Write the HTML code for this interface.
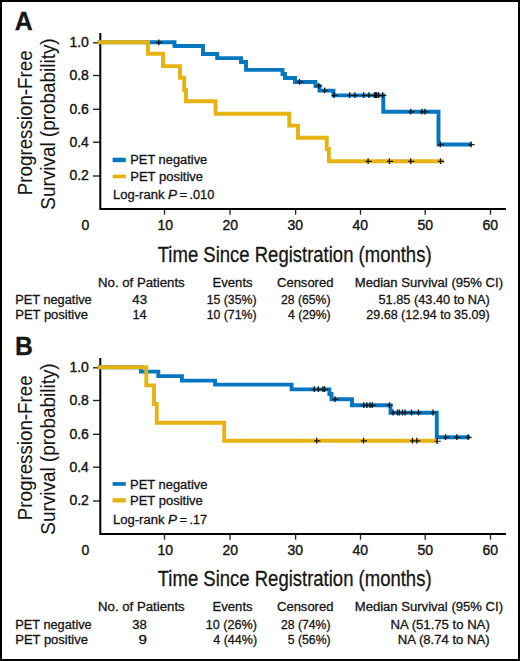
<!DOCTYPE html>
<html><head><meta charset="utf-8"><style>
html,body{margin:0;padding:0;background:#fff;}
svg{display:block;}
text{font-family:"Liberation Sans", sans-serif;fill:#161616;stroke:#161616;stroke-width:0.3px;}

</style></head><body>
<svg width="520" height="661" viewBox="0 0 520 661">
<rect x="0" y="0" width="520" height="661" fill="#fff"/>
<text x="14.75" y="29.6" font-size="25.9" font-weight="bold" textLength="17.91" lengthAdjust="spacingAndGlyphs">A</text>
<g transform="translate(32.1,122.8) rotate(-90)"><text x="0" y="0" font-size="20.8" text-anchor="middle" textLength="144.8" lengthAdjust="spacingAndGlyphs" style="stroke-width:0.1px">Progression-Free</text></g>
<g transform="translate(55.2,124) rotate(-90)"><text x="0" y="0" font-size="20.8" text-anchor="middle" textLength="171.3" lengthAdjust="spacingAndGlyphs" style="stroke-width:0.1px">Survival (probability)</text></g>
<text x="88.9" y="47.1" font-size="14" text-anchor="end" style="stroke-width:0.4px">1.0</text>
<path d="M93,42.8 H100" stroke="#222" stroke-width="1.35"/>
<text x="88.9" y="79.8" font-size="14" text-anchor="end" style="stroke-width:0.4px">0.8</text>
<path d="M93,75.5 H100" stroke="#222" stroke-width="1.35"/>
<text x="88.9" y="113.6" font-size="14" text-anchor="end" style="stroke-width:0.4px">0.6</text>
<path d="M93,109.3 H100" stroke="#222" stroke-width="1.35"/>
<text x="88.9" y="146.5" font-size="14" text-anchor="end" style="stroke-width:0.4px">0.4</text>
<path d="M93,142.2 H100" stroke="#222" stroke-width="1.35"/>
<text x="88.9" y="180.3" font-size="14" text-anchor="end" style="stroke-width:0.4px">0.2</text>
<path d="M93,176.0 H100" stroke="#222" stroke-width="1.35"/>
<text x="85.4" y="229.7" font-size="14" text-anchor="middle" style="stroke-width:0.4px">0</text>
<path d="M164.5,210 V214.7" stroke="#222" stroke-width="1.35"/>
<text x="165.2" y="229.7" font-size="14" text-anchor="middle" style="stroke-width:0.4px">10</text>
<path d="M230.0,210 V214.7" stroke="#222" stroke-width="1.35"/>
<text x="230.2" y="229.7" font-size="14" text-anchor="middle" style="stroke-width:0.4px">20</text>
<path d="M295.6,210 V214.7" stroke="#222" stroke-width="1.35"/>
<text x="295.2" y="229.7" font-size="14" text-anchor="middle" style="stroke-width:0.4px">30</text>
<path d="M360.5,210 V214.7" stroke="#222" stroke-width="1.35"/>
<text x="360.2" y="229.7" font-size="14" text-anchor="middle" style="stroke-width:0.4px">40</text>
<path d="M425.2,210 V214.7" stroke="#222" stroke-width="1.35"/>
<text x="425.2" y="229.7" font-size="14" text-anchor="middle" style="stroke-width:0.4px">50</text>
<path d="M490.5,210 V214.7" stroke="#222" stroke-width="1.35"/>
<text x="490.2" y="229.7" font-size="14" text-anchor="middle" style="stroke-width:0.4px">60</text>
<path d="M100.3,33 V209 H506" fill="none" stroke="#000" stroke-width="2"/>
<path d="M97.7,42.3 H174.5 V46.00 H203 V54.00 H217.2 V58.10 H241 V62.00 H246 V69.90 H282.5 V74.00 H285 V78.00 H295 V82.00 H315.5 V86.00 H319.5 V90.60 H333.5 V95.40 H383.3 V111.80 H438.5 V144.50 H472" fill="none" stroke="#0577C0" stroke-width="3.9"/>
<path d="M97.7,42.3 H148 V53.75 H163 V66.10 H180 V77.80 H184.25 V90.00 H186 V101.25 H215.6 V113.80 H289.25 V125.60 H298 V137.80 H326.75 V149.00 H328.9 V161.30 H443.8" fill="none" stroke="#E5B312" stroke-width="3.9"/>
<path d="M156.15,42.60 h6.2 M296.90,82.10 h6.2 M316.15,86.10 h6.2 M322.00,90.70 h6.2 M331.50,95.50 h6.2 M347.00,95.50 h6.2 M352.30,95.50 h6.2 M361.00,95.50 h6.2 M366.30,95.50 h6.2 M371.80,95.50 h6.2 M373.00,95.50 h6.2 M374.20,95.50 h6.2 M376.00,95.50 h6.2 M380.20,95.50 h6.2 M408.20,111.90 h6.2 M419.40,111.90 h6.2 M422.30,111.90 h6.2 M437.70,144.60 h6.2 M468.40,144.60 h6.2" fill="none" stroke="#1a1a1a" stroke-width="1.1"/>
<path d="M158.75,39.40 v5.8 M299.50,78.90 v5.8 M318.75,82.90 v5.8 M324.60,87.50 v5.8 M334.10,92.30 v5.8 M349.60,92.30 v5.8 M354.90,92.30 v5.8 M363.60,92.30 v5.8 M368.90,92.30 v5.8 M374.40,92.30 v5.8 M375.60,92.30 v5.8 M376.80,92.30 v5.8 M378.60,92.30 v5.8 M382.80,92.30 v5.8 M410.80,108.70 v5.8 M422.00,108.70 v5.8 M424.90,108.70 v5.8 M440.30,141.40 v5.8 M471.00,141.40 v5.8" fill="none" stroke="#111" stroke-width="1.3"/>
<path d="M365.50,161.40 h6.2 M386.80,161.40 h6.2 M408.10,161.40 h6.2 M437.90,161.40 h6.2" fill="none" stroke="#1a1a1a" stroke-width="1.1"/>
<path d="M368.10,158.20 v5.8 M389.40,158.20 v5.8 M410.70,158.20 v5.8 M440.50,158.20 v5.8" fill="none" stroke="#111" stroke-width="1.3"/>
<rect x="112.6" y="157.7" width="13.2" height="4.5" fill="#0577C0"/>
<rect x="112.6" y="174.6" width="13.2" height="3.7" fill="#E5B312"/>
<text x="130.25" y="164.05" font-size="12" textLength="76.97" lengthAdjust="spacingAndGlyphs">PET negative</text>
<text x="130.25" y="180.9" font-size="12" textLength="72.78" lengthAdjust="spacingAndGlyphs">PET positive</text>
<text x="113.0" y="199.1" font-size="12" textLength="51.4" lengthAdjust="spacingAndGlyphs">Log-rank</text>
<text x="168.0" y="199.1" font-size="12" textLength="9.0" lengthAdjust="spacingAndGlyphs"><tspan font-style="italic">P</tspan></text>
<text x="179.5" y="199.1" font-size="12" textLength="7.64" lengthAdjust="spacingAndGlyphs">=</text>
<text x="189.5" y="199.1" font-size="12" textLength="24.79" lengthAdjust="spacingAndGlyphs">.010</text>
<text x="157.75" y="261.7" font-size="22" textLength="273.83" lengthAdjust="spacingAndGlyphs">Time Since Registration (months)</text>
<text x="98.0" y="286.8" font-size="12" textLength="86.67" lengthAdjust="spacingAndGlyphs">No. of Patients</text>
<text x="212.5" y="286.8" font-size="12" textLength="40.1" lengthAdjust="spacingAndGlyphs">Events</text>
<text x="277.0" y="286.8" font-size="12" textLength="56.42" lengthAdjust="spacingAndGlyphs">Censored</text>
<text x="354.75" y="286.8" font-size="12" textLength="148.25" lengthAdjust="spacingAndGlyphs">Median Survival (95% CI)</text>
<text x="15.25" y="303.9" font-size="12" textLength="76.46" lengthAdjust="spacingAndGlyphs">PET negative</text>
<text x="132.25" y="303.9" font-size="12" textLength="14.88" lengthAdjust="spacingAndGlyphs">43</text>
<text x="206.75" y="303.9" font-size="12" textLength="49.74" lengthAdjust="spacingAndGlyphs">15 (35%)</text>
<text x="281.0" y="303.9" font-size="12" textLength="49.47" lengthAdjust="spacingAndGlyphs">28 (65%)</text>
<text x="378.5" y="303.9" font-size="12" textLength="111.35" lengthAdjust="spacingAndGlyphs">51.85 (43.40 to NA)</text>
<text x="15.25" y="318.9" font-size="12" textLength="72.72" lengthAdjust="spacingAndGlyphs">PET positive</text>
<text x="132.5" y="318.9" font-size="12" textLength="14.23" lengthAdjust="spacingAndGlyphs">14</text>
<text x="206.75" y="318.9" font-size="12" textLength="49.74" lengthAdjust="spacingAndGlyphs">10 (71%)</text>
<text x="288.0" y="318.9" font-size="12" textLength="42.59" lengthAdjust="spacingAndGlyphs">4 (29%)</text>
<text x="366.25" y="318.9" font-size="12" textLength="123.39" lengthAdjust="spacingAndGlyphs">29.68 (12.94 to 35.09)</text>
<text x="15.0" y="355.2" font-size="25.6" font-weight="bold" textLength="17.84" lengthAdjust="spacingAndGlyphs">B</text>
<g transform="translate(32.1,447.8) rotate(-90)"><text x="0" y="0" font-size="20.8" text-anchor="middle" textLength="144.8" lengthAdjust="spacingAndGlyphs" style="stroke-width:0.1px">Progression-Free</text></g>
<g transform="translate(55.2,449) rotate(-90)"><text x="0" y="0" font-size="20.8" text-anchor="middle" textLength="171.3" lengthAdjust="spacingAndGlyphs" style="stroke-width:0.1px">Survival (probability)</text></g>
<text x="88.9" y="372.1" font-size="14" text-anchor="end" style="stroke-width:0.4px">1.0</text>
<path d="M93,367.8 H100" stroke="#222" stroke-width="1.35"/>
<text x="88.9" y="404.8" font-size="14" text-anchor="end" style="stroke-width:0.4px">0.8</text>
<path d="M93,400.5 H100" stroke="#222" stroke-width="1.35"/>
<text x="88.9" y="438.6" font-size="14" text-anchor="end" style="stroke-width:0.4px">0.6</text>
<path d="M93,434.3 H100" stroke="#222" stroke-width="1.35"/>
<text x="88.9" y="471.5" font-size="14" text-anchor="end" style="stroke-width:0.4px">0.4</text>
<path d="M93,467.2 H100" stroke="#222" stroke-width="1.35"/>
<text x="88.9" y="505.3" font-size="14" text-anchor="end" style="stroke-width:0.4px">0.2</text>
<path d="M93,501.0 H100" stroke="#222" stroke-width="1.35"/>
<text x="85.4" y="554.7" font-size="14" text-anchor="middle" style="stroke-width:0.4px">0</text>
<path d="M164.5,535 V539.7" stroke="#222" stroke-width="1.35"/>
<text x="165.2" y="554.7" font-size="14" text-anchor="middle" style="stroke-width:0.4px">10</text>
<path d="M230.0,535 V539.7" stroke="#222" stroke-width="1.35"/>
<text x="230.2" y="554.7" font-size="14" text-anchor="middle" style="stroke-width:0.4px">20</text>
<path d="M295.6,535 V539.7" stroke="#222" stroke-width="1.35"/>
<text x="295.2" y="554.7" font-size="14" text-anchor="middle" style="stroke-width:0.4px">30</text>
<path d="M360.5,535 V539.7" stroke="#222" stroke-width="1.35"/>
<text x="360.2" y="554.7" font-size="14" text-anchor="middle" style="stroke-width:0.4px">40</text>
<path d="M425.2,535 V539.7" stroke="#222" stroke-width="1.35"/>
<text x="425.2" y="554.7" font-size="14" text-anchor="middle" style="stroke-width:0.4px">50</text>
<path d="M490.5,535 V539.7" stroke="#222" stroke-width="1.35"/>
<text x="490.2" y="554.7" font-size="14" text-anchor="middle" style="stroke-width:0.4px">60</text>
<path d="M100.3,358 V534 H506" fill="none" stroke="#000" stroke-width="2"/>
<path d="M97.7,367.3 H141 V371.60 H158.3 V376.10 H181.9 V380.60 H215.1 V384.60 H291.6 V389.40 H329.4 V394.00 H331.5 V399.30 H352 V405.30 H390.5 V412.70 H436.8 V437.30 H470" fill="none" stroke="#0577C0" stroke-width="3.9"/>
<path d="M97.7,367.3 H146.3 V385.40 H154 V404.00 H156.75 V422.80 H224.2 V440.80 H437" fill="none" stroke="#E5B312" stroke-width="3.9"/>
<path d="M311.60,389.50 h6.2 M315.70,389.50 h6.2 M320.30,389.50 h6.2 M322.00,389.50 h6.2 M332.40,399.40 h6.2 M361.15,405.40 h6.2 M364.30,405.40 h6.2 M367.40,405.40 h6.2 M369.65,405.40 h6.2 M386.80,405.40 h6.2 M390.50,412.80 h6.2 M394.90,412.80 h6.2 M396.80,412.80 h6.2 M399.90,412.80 h6.2 M402.40,412.80 h6.2 M408.90,412.80 h6.2 M415.90,412.80 h6.2 M430.40,412.80 h6.2 M442.90,437.40 h6.2 M454.20,437.40 h6.2 M465.50,437.40 h6.2" fill="none" stroke="#1a1a1a" stroke-width="1.1"/>
<path d="M314.20,386.30 v5.8 M318.30,386.30 v5.8 M322.90,386.30 v5.8 M324.60,386.30 v5.8 M335.00,396.20 v5.8 M363.75,402.20 v5.8 M366.90,402.20 v5.8 M370.00,402.20 v5.8 M372.25,402.20 v5.8 M389.40,402.20 v5.8 M393.10,409.60 v5.8 M397.50,409.60 v5.8 M399.40,409.60 v5.8 M402.50,409.60 v5.8 M405.00,409.60 v5.8 M411.50,409.60 v5.8 M418.50,409.60 v5.8 M433.00,409.60 v5.8 M445.50,434.20 v5.8 M456.80,434.20 v5.8 M468.10,434.20 v5.8" fill="none" stroke="#111" stroke-width="1.3"/>
<path d="M314.10,440.90 h6.2 M360.90,440.90 h6.2 M409.90,440.90 h6.2 M414.20,440.90 h6.2 M434.60,441.30 h6.2" fill="none" stroke="#1a1a1a" stroke-width="1.1"/>
<path d="M316.70,437.70 v5.8 M363.50,437.70 v5.8 M412.50,437.70 v5.8 M416.80,437.70 v5.8 M437.20,438.10 v5.8" fill="none" stroke="#111" stroke-width="1.3"/>
<rect x="112.6" y="482.1" width="13.2" height="3.7" fill="#0577C0"/>
<rect x="112.6" y="498.2" width="13.2" height="4.3" fill="#E5B312"/>
<text x="130.0" y="488.8" font-size="12" textLength="77.43" lengthAdjust="spacingAndGlyphs">PET negative</text>
<text x="130.0" y="504.8" font-size="12" textLength="72.86" lengthAdjust="spacingAndGlyphs">PET positive</text>
<text x="113.0" y="524.4" font-size="12" textLength="51.4" lengthAdjust="spacingAndGlyphs">Log-rank</text>
<text x="168.0" y="524.4" font-size="12" textLength="9.0" lengthAdjust="spacingAndGlyphs"><tspan font-style="italic">P</tspan></text>
<text x="179.5" y="524.4" font-size="12" textLength="7.64" lengthAdjust="spacingAndGlyphs">=</text>
<text x="189.5" y="524.4" font-size="12" textLength="17.51" lengthAdjust="spacingAndGlyphs">.17</text>
<text x="157.75" y="586.0" font-size="22" textLength="273.83" lengthAdjust="spacingAndGlyphs">Time Since Registration (months)</text>
<text x="98.0" y="611.3" font-size="12" textLength="86.67" lengthAdjust="spacingAndGlyphs">No. of Patients</text>
<text x="212.5" y="611.3" font-size="12" textLength="40.1" lengthAdjust="spacingAndGlyphs">Events</text>
<text x="277.0" y="611.3" font-size="12" textLength="56.42" lengthAdjust="spacingAndGlyphs">Censored</text>
<text x="354.75" y="611.3" font-size="12" textLength="148.25" lengthAdjust="spacingAndGlyphs">Median Survival (95% CI)</text>
<text x="15.25" y="629.2" font-size="12" textLength="76.46" lengthAdjust="spacingAndGlyphs">PET negative</text>
<text x="132.25" y="629.2" font-size="12" textLength="14.49" lengthAdjust="spacingAndGlyphs">38</text>
<text x="205.75" y="629.2" font-size="12" textLength="51.08" lengthAdjust="spacingAndGlyphs">10 (26%)</text>
<text x="281.0" y="629.2" font-size="12" textLength="49.47" lengthAdjust="spacingAndGlyphs">28 (74%)</text>
<text x="390.5" y="629.2" font-size="12" textLength="99.26" lengthAdjust="spacingAndGlyphs">NA (51.75 to NA)</text>
<text x="15.25" y="643.9" font-size="12" textLength="72.72" lengthAdjust="spacingAndGlyphs">PET positive</text>
<text x="138.5" y="643.9" font-size="12" textLength="8.49" lengthAdjust="spacingAndGlyphs">9</text>
<text x="213.25" y="643.9" font-size="12" textLength="43.81" lengthAdjust="spacingAndGlyphs">4 (44%)</text>
<text x="287.75" y="643.9" font-size="12" textLength="42.85" lengthAdjust="spacingAndGlyphs">5 (56%)</text>
<text x="397.75" y="643.9" font-size="12" textLength="91.94" lengthAdjust="spacingAndGlyphs">NA (8.74 to NA)</text>
<rect x="1" y="1" width="518" height="659" fill="none" stroke="#000" stroke-width="2"/>
</svg>
</body></html>
